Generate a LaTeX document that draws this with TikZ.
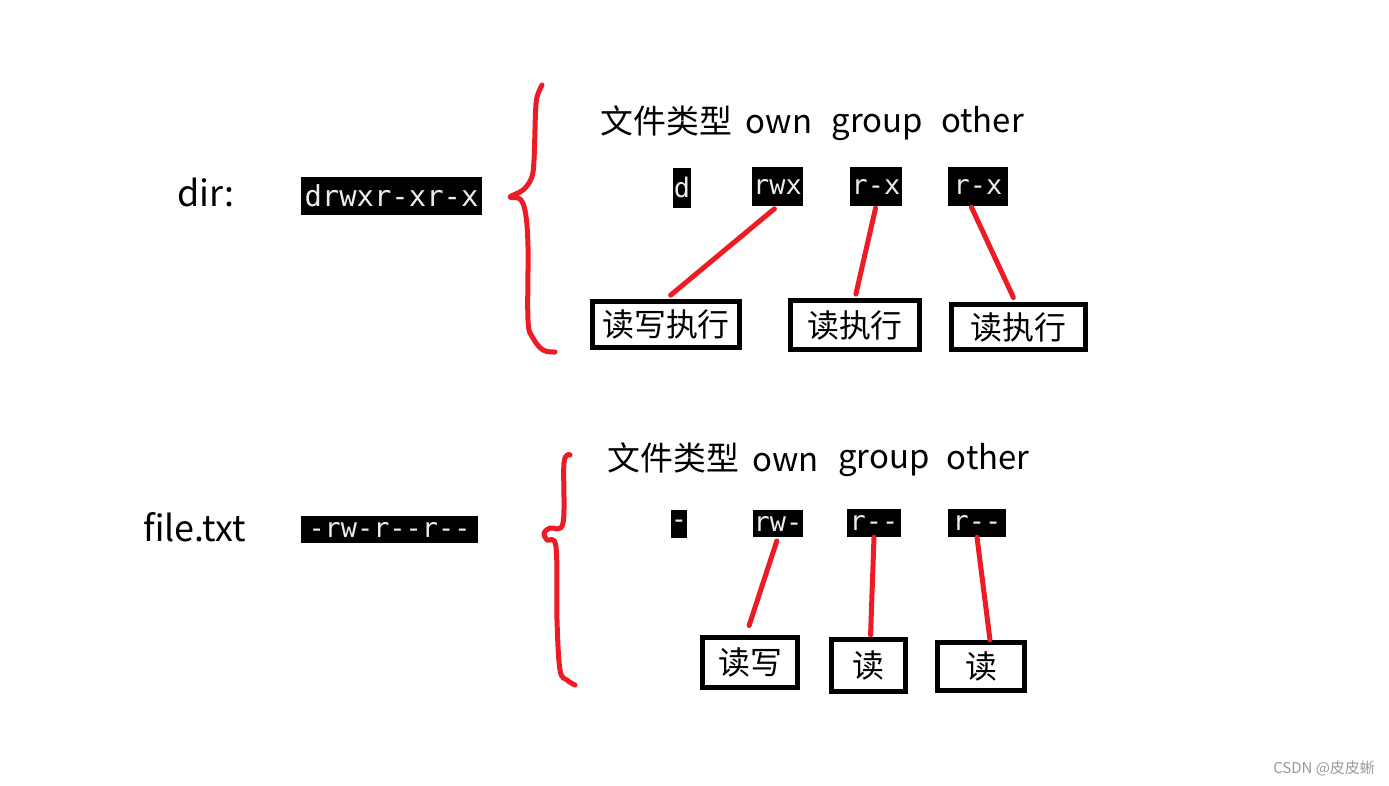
\documentclass[tikz,border=0pt]{standalone}
\usepackage{fontspec}
\setmainfont{Noto Sans CJK SC}
\newfontfamily\termfont{DejaVu Sans Mono}
\definecolor{penred}{RGB}{237,28,36}
\begin{document}
\begin{tikzpicture}[x=1bp,y=-1bp,
	every node/.style={inner sep=0pt},
	fname/.style={anchor=base west,font=\fontsize{36}{40}\selectfont},
	head/.style={anchor=base,font=\fontsize{33}{38}\selectfont},
	term/.style={fill=black,text=white!92!black,minimum height=39bp,font=\termfont\fontsize{27}{30}\selectfont},
	perm/.style={draw=black,line width=5bp,font=\fontsize{32}{36}\selectfont},
	pen/.style={draw=penred,line width=5bp,line cap=round,line join=round}]
	\useasboundingbox (0,0) rectangle (1389,785);
	\node [fname] (dir) at (177,206) {dir:};
	\node [term,minimum width=181bp,minimum height=38bp,font=\termfont\fontsize{29}{32}\selectfont] (dirbits) at (391.5,196) {drwxr-xr-x};
	\draw [pen] plot [smooth,tension=0.6] coordinates {(542,85) (537,97) (535.5,113) (534,160) (531.5,178) (523,190) (510,197) (520,199) (525.5,213) (528,247) (528,320) (533,338) (543,350) (555,352)};
	\node [head] (dtype) at (666.5,133) {文件类型};
	\node [head] (down) at (779,133) {own};
	\node [head] (dgroup) at (877.5,132) {group};
	\node [head] (dother) at (982.5,132) {other};
	\node [term,minimum width=18bp,minimum height=40bp] (dT) at (682,187.5) {d};
	\node [term,minimum width=51bp] (dU) at (777.5,186.5) {rwx};
	\node [term,minimum width=52bp] (dG) at (876,186.5) {r-x};
	\node [term,minimum width=60bp] (dO) at (978,186.5) {r-x};
	\node [perm,minimum width=147bp,minimum height=46bp] (dUr) at (666,324.5) {读写执行};
	\node [perm,minimum width=129bp,minimum height=49bp] (dGr) at (855,325) {读执行};
	\node [perm,minimum width=134bp,minimum height=45bp] (dOr) at (1018.5,327) {读执行};
	\draw [pen,shorten <=4bp,shorten >=6bp] (dU.south) -- (dUr.north);
	\draw [pen,shorten <=2bp,shorten >=4bp] (dG.south) -- (dGr.north);
	\draw [pen,shorten <=1bp,shorten >=5bp] ([shift={(-7,0)}]dO.south) -- ([shift={(-3,0)}]dOr.north);
	\node [fname] (file) at (143,541) {file.txt};
	\node [term,minimum width=177bp,minimum height=27bp] (filebits) at (389.5,529.5) {-rw-r--r--};
	\draw [pen] plot [smooth,tension=0.6] coordinates {(570,455) (564,463) (563,523) (550,528) (544,533) (547,540) (556,547) (557,620) (560,670) (567,680) (575,685)};
	\node [head] (ftype) at (673.5,470) {文件类型};
	\node [head] (fown) at (785.5,471) {own};
	\node [head] (fgroup) at (884,468) {group};
	\node [head] (fother) at (988,469) {other};
	\node [term,minimum width=14bp,minimum height=28bp] (fT) at (679,524) {-};
	\node [term,minimum width=50bp,minimum height=27bp] (fU) at (778,523.5) {rw-};
	\node [term,minimum width=54bp,minimum height=28bp] (fG) at (874,523) {r--};
	\node [term,minimum width=58bp,minimum height=28bp] (fO) at (977,523) {r--};
	\node [perm,minimum width=95bp,minimum height=50bp] (fUr) at (750,662.5) {读写};
	\node [perm,minimum width=74bp,minimum height=52bp] (fGr) at (868.5,665.5) {读};
	\node [perm,minimum width=87bp,minimum height=48bp] (fOr) at (981,666.5) {读};
	\draw [pen,shorten <=4bp,shorten >=10bp] (fU.south) -- ([shift={(-4,0)}]fUr.north);
	\draw [pen,shorten >=2bp] (fG.south) -- ([shift={(2,0)}]fGr.north);
	\draw [pen] (fO.south) -- ([shift={(9,0)}]fOr.north);
	\node [text=black!40,font=\fontsize{15}{17}\selectfont] (mark) at (1324,768) {CSDN @皮皮蜥};
\end{tikzpicture}
\end{document}
